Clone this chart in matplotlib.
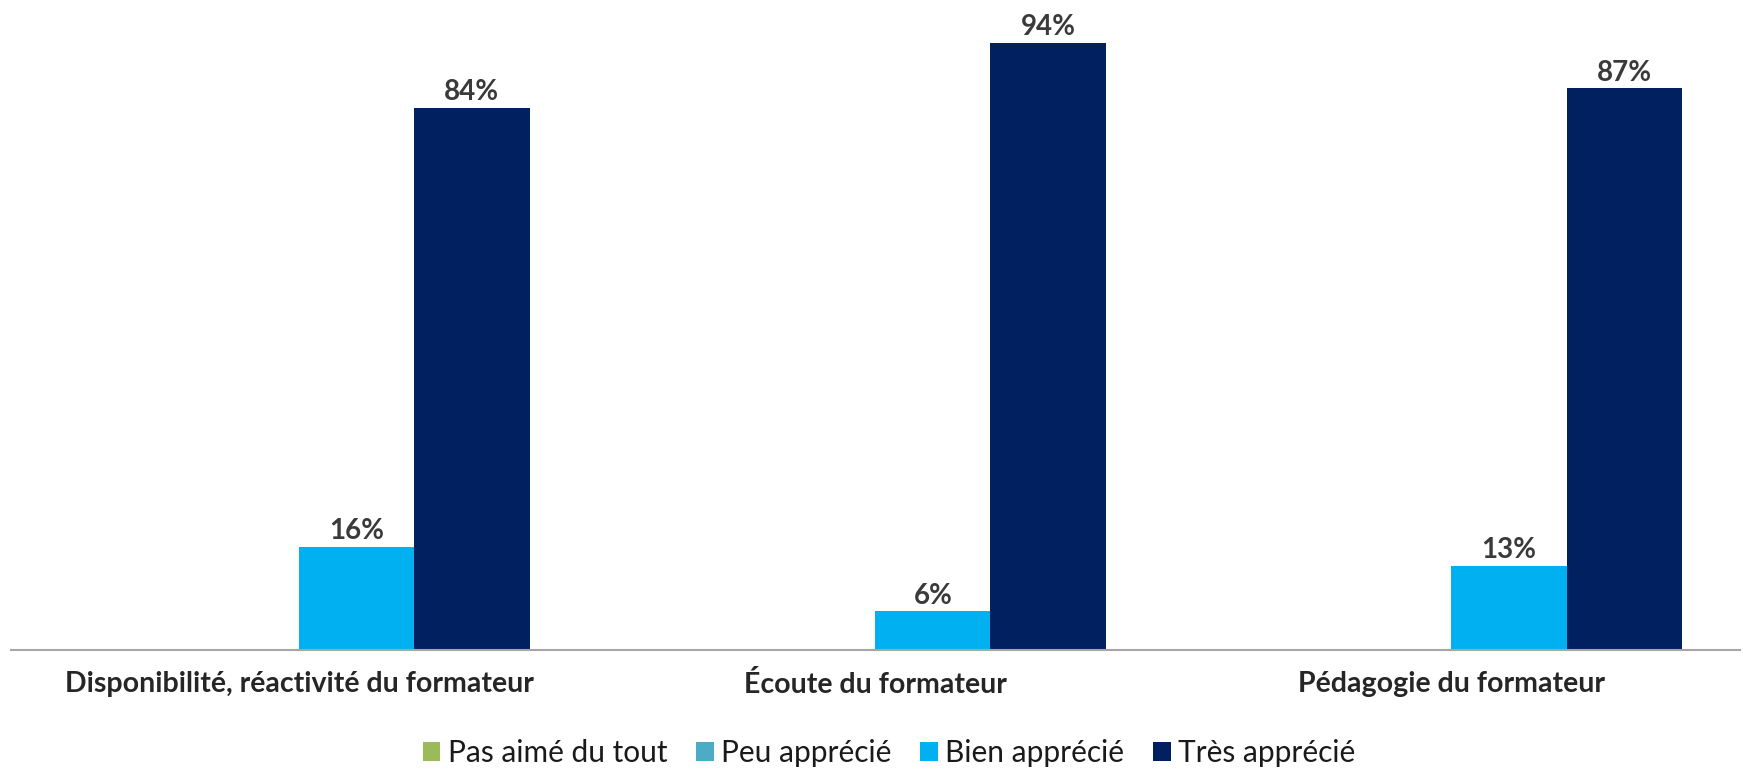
import numpy as np
import matplotlib
matplotlib.use('Agg')
import matplotlib.pyplot as plt

# Data (share of answers)
categories = ['Disponibilité, réactivité du formateur', 'Écoute du formateur', 'Pédagogie du formateur']
series = ['Pas aimé du tout', 'Peu apprécié', 'Bien apprécié', 'Très apprécié']
pas_aime = [0, 0, 0]
peu_apprecie = [0, 0, 0]
bien_apprecie = [16, 6, 13]
tres_apprecie = [84, 94, 87]
colors = ['#9BBB59', '#4BACC6', '#00B0F0', '#002060']

values = [pas_aime, peu_apprecie, bien_apprecie, tres_apprecie]

plt.rcParams['font.family'] = ['Lato', 'DejaVu Sans']

fig = plt.figure(figsize=(17.43, 7.72), dpi=100)
ax = fig.add_axes([0.0063, 0.158, 0.9917, 0.8365])

x = np.arange(len(categories))
width = 0.2
for i, (name, vals) in enumerate(zip(series, values)):
    pos = x + (i - 1.5) * width
    bars = ax.bar(pos, vals, width, color=colors[i], label=name)
    for b, v in zip(bars, vals):
        if v > 0:
            ax.text(b.get_x() + b.get_width() / 2, v + 0.4, f'{v}%',
                    ha='center', va='bottom', fontsize=20, fontweight='bold',
                    color='#3a3a3a')

ax.set_xlim(-0.5, 2.5)
ax.set_ylim(0, 100)
ax.set_xticks(x)
ax.set_xticklabels(categories, fontsize=20.5, fontweight='bold', color='#262626')
ax.tick_params(axis='x', length=0, pad=15)
ax.set_yticks([])
for s in ['top', 'right', 'left']:
    ax.spines[s].set_visible(False)
ax.spines['bottom'].set_color('#a6a6a6')
ax.spines['bottom'].set_linewidth(1.5)

fig.legend(loc='center', bbox_to_anchor=(0.51, 0.025), ncol=4, frameon=False,
           fontsize=21.5, handlelength=0.6, handleheight=0.6, handletextpad=0.25,
           columnspacing=0.95, labelcolor='#1a1a1a')

fig.savefig('out.png', dpi=100)
